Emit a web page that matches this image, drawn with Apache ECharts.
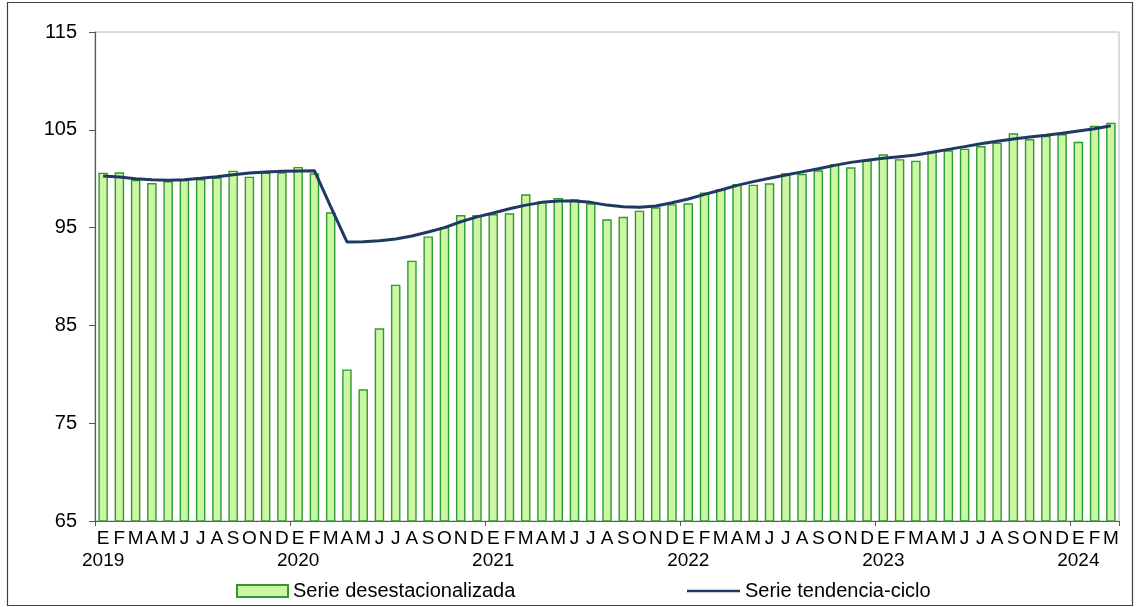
<!DOCTYPE html>
<html>
<head>
<meta charset="utf-8">
<title>Serie desestacionalizada y tendencia-ciclo</title>
<script src="https://cdn.jsdelivr.net/npm/echarts@6/dist/echarts.min.js"></script>
<style>
  html, body { margin: 0; padding: 0; background: #fff; }
  #chart { width: 1136px; height: 607px; }
</style>
</head>
<body>
<div id="chart"></div>
<script>
  // etiquetas del eje
  var monthLetters = ['E', 'F', 'M', 'A', 'M', 'J', 'J', 'A', 'S', 'O', 'N', 'D']
  var years = [2019, 2020, 2021, 2022, 2023, 2024]
  var yTicks = [65, 75, 85, 95, 105, 115]

  // serie desestacionalizada (barras), ene 2019 - mar 2024
  var desest2019 = [100.62, 100.65, 99.87, 99.56, 99.76, 99.87, 99.97, 100.14, 100.82, 100.21, 100.62, 100.65]
  var desest2020 = [101.2, 100.55, 96.56, 80.5, 78.47, 84.7, 89.16, 91.62, 94.1, 95.06, 96.29, 96.29]
  var desest2021 = [96.39, 96.46, 98.4, 97.7, 98.03, 97.9, 97.49, 95.85, 96.1, 96.73, 97.07, 97.4]
  var desest2022 = [97.49, 98.6, 98.92, 99.46, 99.39, 99.53, 100.55, 100.5, 100.86, 101.47, 101.16, 101.9]
  var desest2023 = [102.5, 102.0, 101.84, 102.77, 102.9, 103.07, 103.34, 103.68, 104.64, 104.06, 104.37, 104.57]
  var desest2024 = [103.78, 105.42, 105.73]

  // serie tendencia-ciclo (linea)
  var tend2019 = [100.28, 100.17, 100.0, 99.9, 99.83, 99.9, 100.04, 100.2, 100.41, 100.58, 100.68, 100.75]
  var tend2020 = [100.79, 100.82, 97.15, 93.53, 93.56, 93.65, 93.83, 94.14, 94.55, 95.0, 95.6, 96.1]
  var tend2021 = [96.5, 96.93, 97.3, 97.58, 97.72, 97.72, 97.58, 97.3, 97.14, 97.07, 97.2, 97.55]
  var tend2022 = [97.92, 98.4, 98.85, 99.32, 99.7, 100.04, 100.38, 100.7, 101.02, 101.36, 101.67, 101.88]
  var tend2023 = [102.08, 102.25, 102.42, 102.7, 103.0, 103.28, 103.58, 103.82, 104.06, 104.27, 104.44, 104.64]
  var tend2024 = [104.88, 105.11, 105.42]

  var desest = [].concat(desest2019, desest2020, desest2021, desest2022, desest2023, desest2024)
  var tendencia = [].concat(tend2019, tend2020, tend2021, tend2022, tend2023, tend2024)

  // categorias: una por mes
  var categories = []
  desest.forEach(function (v, i) {
    categories.push(years[Math.floor(i / 12)] + '-' + (i % 12 + 1))
  })

  var fontFam = 'Liberation Sans, Arial, sans-serif'
  var myChart = echarts.init(document.getElementById('chart'))

  myChart.setOption({
    animation: false,
    backgroundColor: '#fff',
    textStyle: { fontFamily: fontFam, color: '#000' },
    graphic: [
      {
        type: 'rect',
        shape: { x: 7.5, y: 2.5, width: 1125, height: 603 },
        style: { fill: 'none', stroke: '#404040', lineWidth: 1.2 },
        silent: true
      }
    ],
    grid: {
      left: 95,
      right: 17,
      top: 32,
      bottom: 86,
      show: true,
      borderColor: '#b8b8b8',
      borderWidth: 1
    },
    legend: [
      {
        data: [{ name: 'Serie desestacionalizada', icon: 'rect' }],
        left: 236,
        top: 581,
        padding: 0,
        itemWidth: 51,
        itemHeight: 12,
        textStyle: { fontSize: 20, color: '#000', fontFamily: fontFam }
      },
      {
        // la linea de la leyenda, sin marcador
        data: [{
          name: 'Serie tendencia-ciclo',
          icon: 'rect',
          itemStyle: { color: '#1f3864', borderWidth: 0 }
        }],
        left: 687,
        top: 581,
        padding: 0,
        itemWidth: 53,
        itemHeight: 2.5,
        textStyle: { fontSize: 20, color: '#000', fontFamily: fontFam }
      }
    ],
    xAxis: {
      type: 'category',
      data: categories,
      boundaryGap: true,
      axisLine: { lineStyle: { color: '#595959', width: 1.2 } },
      axisTick: {
        show: true,
        interval: function (idx) { return idx % 12 === 0 },
        length: 5,
        lineStyle: { color: '#595959' }
      },
      axisLabel: {
        interval: 0,
        margin: 7,
        fontSize: 19,
        lineHeight: 22,
        color: '#000',
        fontFamily: fontFam,
        formatter: function (val, idx) {
          var letter = monthLetters[idx % 12]
          if (idx % 12 === 0) {
            return letter + '\n' + years[Math.floor(idx / 12)]
          }
          return letter
        }
      },
      splitLine: { show: false }
    },
    yAxis: {
      type: 'value',
      min: yTicks[0],
      max: yTicks[yTicks.length - 1],
      interval: 10,
      axisLine: { show: true, lineStyle: { color: '#595959', width: 1.2 } },
      axisTick: { show: true, length: 6, lineStyle: { color: '#595959' } },
      axisLabel: { margin: 18, fontSize: 20, color: '#000', fontFamily: fontFam },
      splitLine: { show: false }
    },
    series: [
      {
        name: 'Serie desestacionalizada',
        type: 'bar',
        data: desest,
        barWidth: 9.5,
        itemStyle: {
          color: '#ccf5a4',
          borderColor: '#2f9a2f',
          borderWidth: 1.4
        }
      },
      {
        name: 'Serie tendencia-ciclo',
        type: 'line',
        data: tendencia,
        symbol: 'none',
        smooth: false,
        lineStyle: { color: '#1f3864', width: 3 },
        itemStyle: { color: '#1f3864' }
      }
    ]
  })
</script>
</body>
</html>
